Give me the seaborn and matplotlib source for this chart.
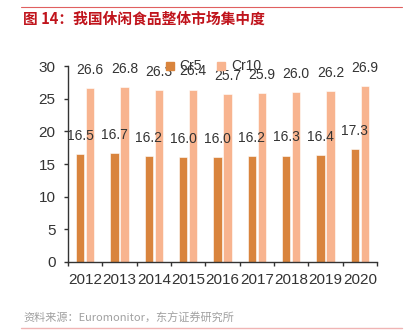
import matplotlib
matplotlib.use("Agg")
import matplotlib.pyplot as plt
import seaborn as sns
import pandas as pd
from matplotlib.lines import Line2D

years = ["2012", "2013", "2014", "2015", "2016", "2017", "2018", "2019", "2020"]
cr5 = [16.5, 16.7, 16.2, 16.0, 16.0, 16.2, 16.3, 16.4, 17.3]
cr10 = [26.6, 26.8, 26.3, 26.4, 25.7, 25.9, 26.0, 26.2, 26.9]
series = ["Cr5", "Cr10"]
colors = ["#D9843D", "#F8B48F"]
title = "图 14：我国休闲食品整体市场集中度"
source = "资料来源：Euromonitor，东方证券研究所"

df = pd.DataFrame({
    "year": years * 2,
    "value": cr5 + cr10,
    "series": [series[0]] * len(years) + [series[1]] * len(years),
})

sns.set_style("white")
plt.rcParams['font.family'] = ['Liberation Sans', 'Noto Sans CJK SC', 'DejaVu Sans']

fig = plt.figure(figsize=(4.05, 3.32), dpi=100)
ax = fig.add_axes([0.168, 0.211, 0.763, 0.590])

sns.barplot(data=df, x="year", y="value", hue="series", palette=colors,
            width=0.58, gap=0.15, ax=ax, legend=False, saturation=1,
            edgecolor="white", linewidth=0.4)

for cont in ax.containers:
    ax.bar_label(cont, fmt="%.1f", padding=8, fontsize=10, color="#333333")

ax.set_ylim(0, 30)
ax.set_xlim(-0.5, len(years) - 0.5)
ax.set_yticks([0, 5, 10, 15, 20, 25, 30])
ax.set_xlabel("")
ax.set_ylabel("")
for s in ["top", "right"]:
    ax.spines[s].set_visible(False)
for s in ["left", "bottom"]:
    ax.spines[s].set_color("#333333")
    ax.spines[s].set_linewidth(1.0)
ax.tick_params(axis="y", direction="out", length=3, width=1, color="#333333",
               labelsize=11, labelcolor="#333333", pad=6, left=True)
ax.tick_params(axis="x", length=0, labelsize=11, labelcolor="#333333", pad=8)
ax.set_xticks([i + 0.5 for i in range(-1, len(years))], minor=True)
ax.tick_params(axis="x", which="minor", direction="out", length=3, width=1,
               color="#333333", bottom=True)

handles = [Line2D([0], [0], marker="s", color="none", markerfacecolor=c,
                  markeredgecolor=c, markersize=6) for c in colors]
fig.legend(handles, series, loc="center", bbox_to_anchor=(0.525, 0.80), ncol=2,
           frameon=False, fontsize=10, handlelength=0.8, handletextpad=0.3,
           columnspacing=1.0, labelcolor="#333333")

fig.add_artist(Line2D([0.052, 0.993], [0.979, 0.979], color="#E06060", linewidth=0.8))
fig.text(0.058, 0.945, title, color="#C0141C", fontsize=10.6, fontweight="bold",
         va="center", ha="left", family=['Noto Sans CJK SC', 'DejaVu Sans'])
fig.add_artist(Line2D([0.052, 0.993], [0.012, 0.012], color="#F0B4B4", linewidth=1.0))
fig.text(0.058, 0.042, source, color="#A0A0A0", fontsize=8, va="center", ha="left",
         family=['Noto Sans CJK SC', 'DejaVu Sans'])

fig.savefig("out.png", dpi=100)
